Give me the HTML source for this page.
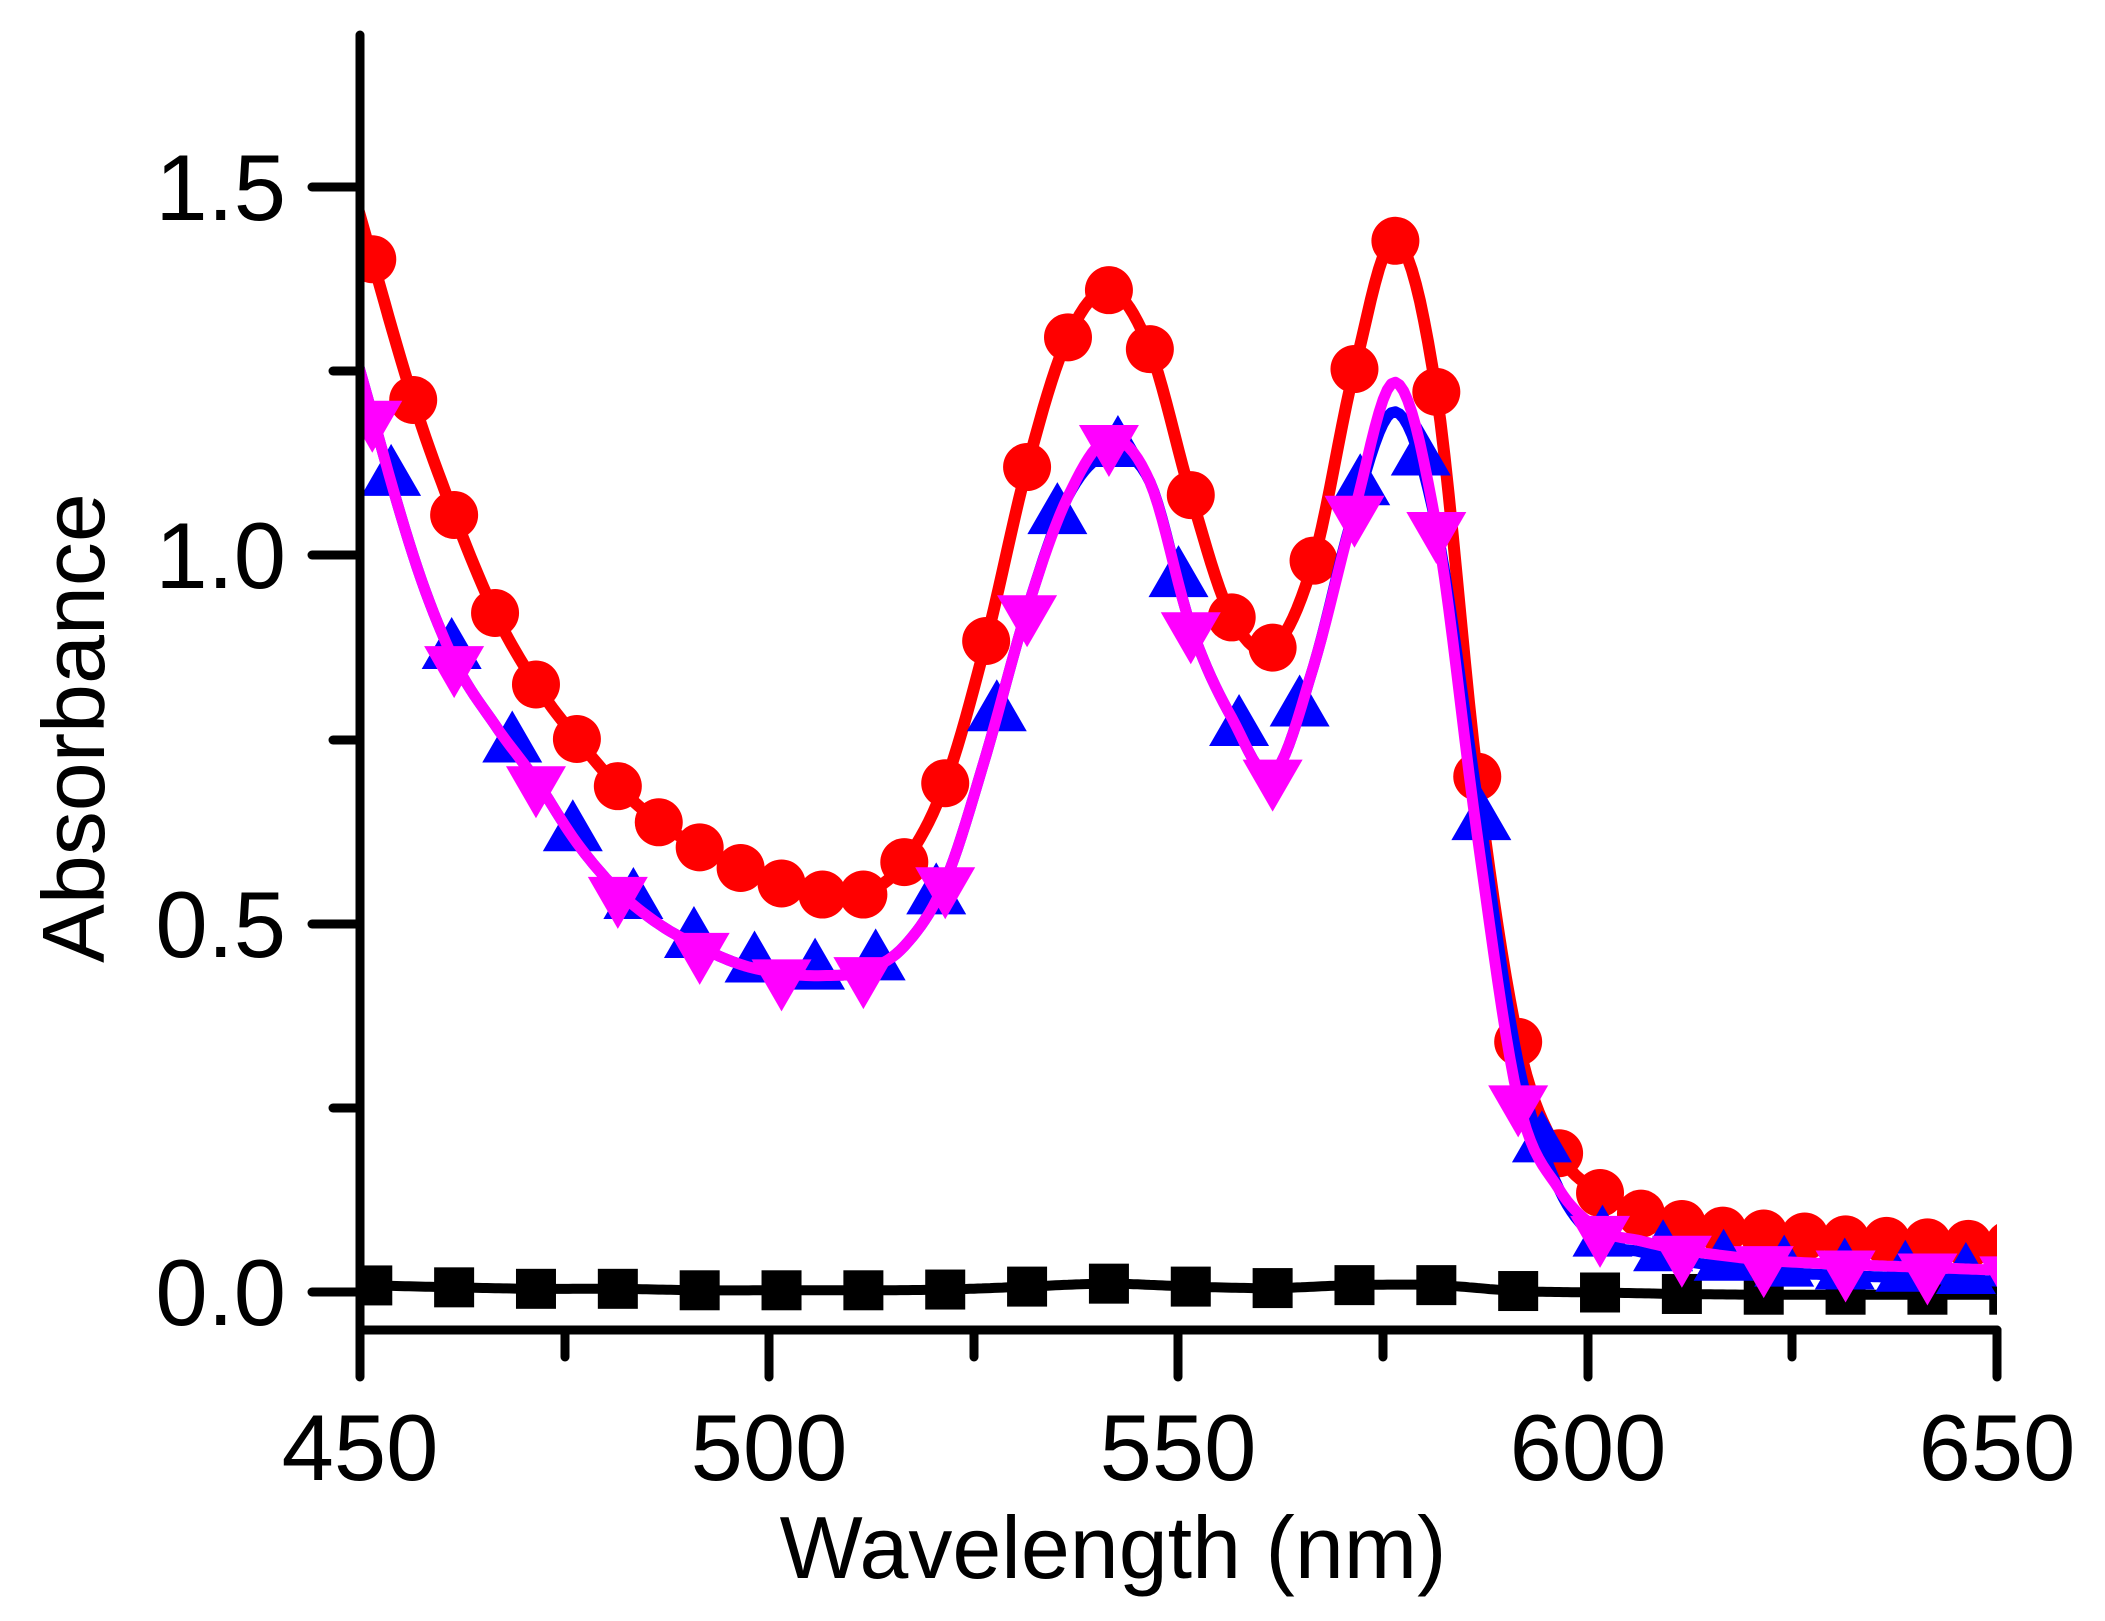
<!DOCTYPE html>
<html><head><meta charset="utf-8"><style>
html,body{margin:0;padding:0;background:#fff;}
svg{display:block;}
text{font-family:"Liberation Sans",Arial,sans-serif;fill:#000;}
</style></head><body>
<svg id="s" width="2105" height="1621" viewBox="0 0 2105 1621" xmlns="http://www.w3.org/2000/svg">
<defs><clipPath id="c"><rect x="360" y="30" width="1637" height="1300"/></clipPath></defs>
<g id="plot" clip-path="url(#c)"></g>
<g stroke="#000" stroke-width="9" stroke-linecap="round" fill="none">
<line x1="360" y1="35" x2="360" y2="1377"/>
<line x1="360" y1="1330" x2="1997" y2="1330"/>
<line x1="1997" y1="1330" x2="1997" y2="1377"/>
<line x1="312" y1="187" x2="360" y2="187"/>
<line x1="312" y1="924" x2="360" y2="924"/>
<line x1="312" y1="555" x2="360" y2="555"/>
<line x1="312" y1="1292" x2="360" y2="1292"/>
<line x1="333" y1="371" x2="360" y2="371"/>
<line x1="333" y1="740" x2="360" y2="740"/>
<line x1="333" y1="1108" x2="360" y2="1108"/>
<line x1="769" y1="1330" x2="769" y2="1377"/>
<line x1="1178" y1="1330" x2="1178" y2="1377"/>
<line x1="1588" y1="1330" x2="1588" y2="1377"/>
<line x1="565" y1="1330" x2="565" y2="1357"/>
<line x1="974" y1="1330" x2="974" y2="1357"/>
<line x1="1383" y1="1330" x2="1383" y2="1357"/>
<line x1="1792" y1="1330" x2="1792" y2="1357"/>
</g>
<g font-size="94" text-anchor="end">
<text x="286" y="220">1.5</text>
<text x="286" y="588">1.0</text>
<text x="286" y="957">0.5</text>
<text x="286" y="1325">0.0</text>
</g>
<g font-size="94" text-anchor="middle">
<text x="360" y="1480">450</text>
<text x="769" y="1480">500</text>
<text x="1178" y="1480">550</text>
<text x="1588" y="1480">600</text>
<text x="1997" y="1480">650</text>
</g>
<text x="1113" y="1578" font-size="88" text-anchor="middle">Wavelength (nm)</text>
<text transform="translate(104,728) rotate(-90)" font-size="88" text-anchor="middle">Absorbance</text>
</svg>
<script>
var X=function(n){return 360+(n-450)*8.185;},Y=function(v){return 1292.5-v*737;};
function sh(d){var r=[d[0]];for(var i=1;i<d.length;i++)r.push([d[i][0]+1.5,d[i][1]]);r.push([655,d[d.length-1][1]]);return r;}
var red=sh([[450,1.47],[455,1.211],[460,1.055],[465,0.922],[470,0.825],[475,0.751],[480,0.687],[485,0.638],[490,0.604],[495,0.576],[500,0.555],[505,0.540],[510,0.540],[515,0.584],[520,0.691],[525,0.884],[530,1.12],[535,1.296],[540,1.36],[545,1.28],[550,1.082],[555,0.916],[560,0.875],[565,0.993],[570,1.253],[575,1.427],[580,1.222],[585,0.70],[590,0.34],[595,0.189],[600,0.135],[605,0.107],[610,0.093],[615,0.084],[620,0.08],[625,0.076],[630,0.072],[635,0.07],[640,0.068],[645,0.066],[650,0.065]]);
red[0]=[449,1.50];
var mag=sh([[450,1.26],[455,1.0],[460,0.858],[465,0.77],[470,0.695],[475,0.61],[480,0.545],[485,0.50],[490,0.469],[495,0.445],[500,0.433],[505,0.43],[510,0.436],[515,0.47],[520,0.558],[525,0.73],[530,0.927],[535,1.08],[540,1.158],[545,1.1],[550,0.904],[555,0.78],[560,0.704],[565,0.85],[570,1.062],[575,1.235],[580,1.04],[585,0.62],[590,0.262],[595,0.14],[600,0.085],[605,0.07],[610,0.058],[620,0.044],[630,0.038],[640,0.034],[650,0.03]]);
mag[0]=[449,1.29];
var blu=mag.map(function(p){var v=p[1];if(p[0]>=538&&p[0]<=545)v-=0.02;if(p[0]>=574&&p[0]<=580)v-=0.04;if(p[0]>=585&&p[0]<=592)v+=0.05;if(p[0]>=600)v-=0.015;return [p[0],v];});
var blk=sh([[450,0.01],[460,0.007],[470,0.005],[480,0.005],[490,0.003],[500,0.003],[510,0.003],[520,0.004],[530,0.008],[540,0.012],[550,0.008],[560,0.006],[570,0.01],[580,0.01],[590,0.002],[600,0.0],[610,-0.002],[620,-0.003],[630,-0.003],[640,-0.003],[650,-0.003]]);
function interp(d,n){for(var i=0;i<d.length-1;i++){if(n<=d[i+1][0]){var p0=d[Math.max(i-1,0)],p1=d[i],p2=d[i+1],p3=d[Math.min(i+2,d.length-1)];var t=(n-p1[0])/(p2[0]-p1[0]);var h=p2[0]-p1[0];var m1=(p2[1]-p0[1])/((p2[0]-p0[0])||1)*h,m2=(p3[1]-p1[1])/((p3[0]-p1[0])||1)*h;var t2=t*t,t3=t2*t;return (2*t3-3*t2+1)*p1[1]+(t3-2*t2+t)*m1+(-2*t3+3*t2)*p2[1]+(t3-t2)*m2;}}return d[d.length-1][1];}
function path(d,col,w){var s="";for(var n=449;n<=651;n+=0.5){s+=(n==449?"M":"L")+X(n).toFixed(1)+" "+Y(interp(d,n)).toFixed(1);}return '<path d="'+s+'" fill="none" stroke="'+col+'" stroke-width="'+w+'" stroke-linejoin="round"/>';}
var g="";
g+=path(blk,"#000",10);
for(var n=451.5;n<=655;n+=10){var x=X(n),y=Y(interp(blk,n));g+='<rect x="'+(x-20)+'" y="'+(y-20)+'" width="40" height="40" fill="#000"/>';}
g+=path(red,"#ff0000",12);
for(var n=451.5;n<=655;n+=5){g+='<circle cx="'+X(n)+'" cy="'+Y(interp(red,n))+'" r="24" fill="#ff0000"/>';}
g+=path(blu,"#0000ff",11);
for(var n=453.8;n<=655;n+=7.4){var x=X(n),y=Y(interp(blu,n))-8;g+='<polygon points="'+(x-30)+','+(y+22)+' '+(x+30)+','+(y+22)+' '+x+','+(y-30)+'" fill="#0000ff"/>';}
g+=path(mag,"#ff00ff",11);
for(var n=451.5;n<=655;n+=10){var x=X(n),y=Y(interp(mag,n))+8;g+='<polygon points="'+(x-30)+','+(y-22)+' '+(x+30)+','+(y-22)+' '+x+','+(y+30)+'" fill="#ff00ff"/>';}
document.getElementById("plot").innerHTML=g;
</script>
</body></html>
